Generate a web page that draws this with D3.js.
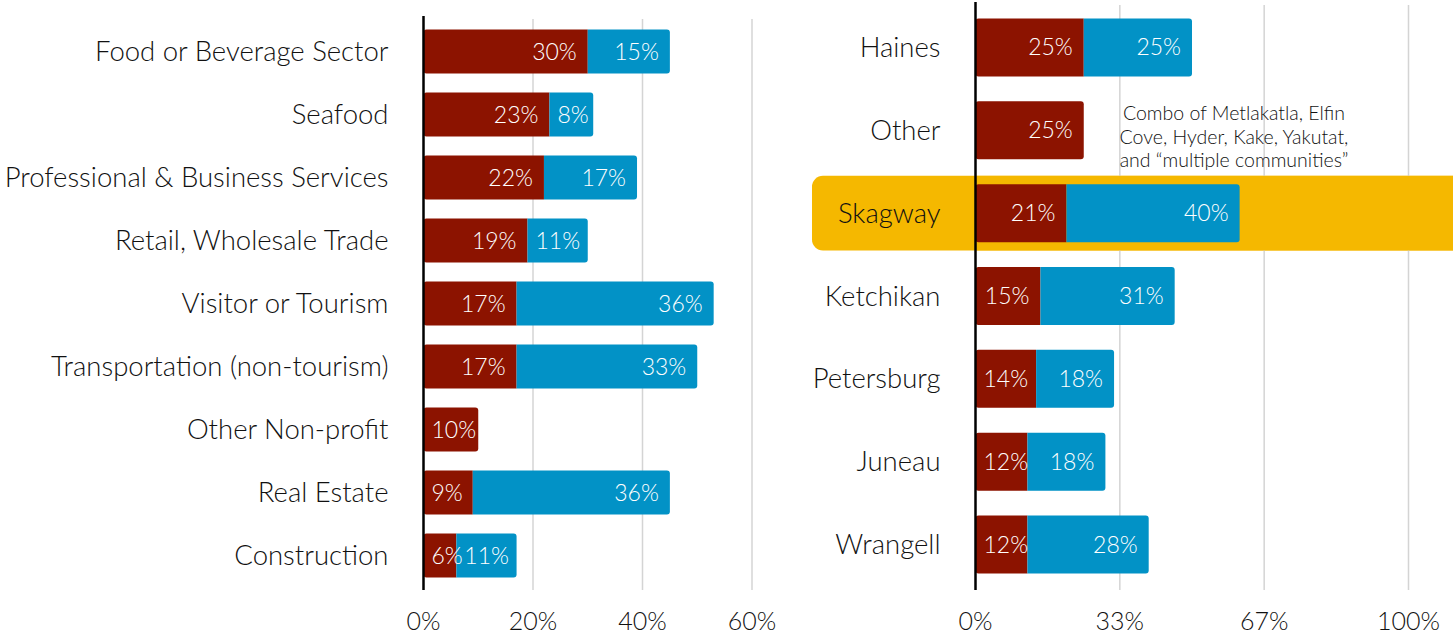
<!DOCTYPE html>
<html>
<head>
<meta charset="utf-8">
<script src="https://cdn.jsdelivr.net/npm/d3@7"></script>
<style>
  body { margin: 0; background: #fff; }
  svg text { font-family: Lato, "Open Sans", sans-serif; font-weight: 300; fill: #111; }
</style>
</head>
<body>
<svg id="chart" width="1453" height="637"></svg>
<script>
// left panel: business sector
let sectorNames = ["Food or Beverage Sector", "Seafood", "Professional & Business Services",
  "Retail, Wholesale Trade", "Visitor or Tourism", "Transportation (non-tourism)",
  "Other Non-profit", "Real Estate", "Construction"];
let sectorRed  = [0.30, 0.23, 0.22, 0.19, 0.17, 0.17, 0.10, 0.09, 0.06];
let sectorBlue = [0.15, 0.08, 0.17, 0.11, 0.36, 0.33, 0.00, 0.36, 0.11];
let sectorTicks = [0, 0.2, 0.4, 0.6];
let sectorTickLabels = ["0%", "20%", "40%", "60%"];

// right panel: community
let communityNames = ["Haines", "Other", "Skagway", "Ketchikan", "Petersburg", "Juneau", "Wrangell"];
let communityRed  = [0.25, 0.25, 0.21, 0.15, 0.14, 0.12, 0.12];
let communityBlue = [0.25, 0.00, 0.40, 0.31, 0.18, 0.18, 0.28];
let communityTicks = [0, 1/3, 2/3, 1];
let communityTickLabels = ["0%", "33%", "67%", "100%"];

let highlightName = "Skagway";
let noteLines = ["Combo of Metlakatla, Elfin", "Cove, Hyder, Kake, Yakutat,", "and \u201cmultiple communities\u201d"];

let colorRed = "#8c1300";
let colorBlue = "#0292c6";
let colorHighlight = "#f5b800";

let svg = d3.select("#chart");

// bar segment with rounded corners on chosen sides
function barPath(x0, x1, y, h, roundLeft, roundRight){
  let r = 3;
  let rl = roundLeft ? r : 0, rr = roundRight ? r : 0;
  return "M" + (x0 + rl) + "," + y +
    "H" + (x1 - rr) +
    (rr ? "Q" + x1 + "," + y + " " + x1 + "," + (y + rr) : "") +
    "V" + (y + h - rr) +
    (rr ? "Q" + x1 + "," + (y + h) + " " + (x1 - rr) + "," + (y + h) : "") +
    "H" + (x0 + rl) +
    (rl ? "Q" + x0 + "," + (y + h) + " " + x0 + "," + (y + h - rl) : "") +
    "V" + (y + rl) +
    (rl ? "Q" + x0 + "," + y + " " + (x0 + rl) + "," + y : "") +
    "Z";
}

function buildPanel(p){
  let g = svg.append("g").attr("class", p.cls);
  let x = p.x, y = p.y;
  let rows = p.names.map(function(d, i){ return {name: d, red: p.red[i], blue: p.blue[i]}; });

  // highlight band goes under everything
  if(p.highlight){
    let step = y.step();
    let cy = y(p.highlight) + y.bandwidth() / 2;
    g.append("rect")
      .attr("x", p.highlightX)
      .attr("y", cy - step * 0.45)
      .attr("width", 1453 - p.highlightX + 20)
      .attr("height", step * 0.9)
      .attr("rx", 11)
      .style("fill", colorHighlight);
  }

  // grid
  g.selectAll(".grid")
    .data(p.ticks.filter(function(d){ return d > 0; }))
    .enter().append("line")
      .attr("x1", function(d){ return x(d); })
      .attr("x2", function(d){ return x(d); })
      .attr("y1", y.range()[0] - 1)
      .attr("y2", 590)
      .style("stroke", "#d4d4d4")
      .style("stroke-width", 1.5);

  // cover grid where highlight sits
  if(p.highlight){
    let step = y.step();
    let cy = y(p.highlight) + y.bandwidth() / 2;
    g.append("rect")
      .attr("x", x(0))
      .attr("y", cy - step * 0.45)
      .attr("width", 1453)
      .attr("height", step * 0.9)
      .style("fill", colorHighlight);
  }

  let row = g.selectAll(".row")
    .data(rows)
    .enter().append("g")
      .attr("class", "row");

  row.append("path")
    .attr("d", function(d){
      return barPath(x(0), x(d.red), y(d.name), y.bandwidth(), true, d.blue == 0);
    })
    .style("fill", colorRed);

  row.filter(function(d){ return d.blue > 0; })
    .append("path")
    .attr("d", function(d){
      return barPath(x(d.red), x(d.red + d.blue), y(d.name), y.bandwidth(), false, true);
    })
    .style("fill", colorBlue);

  // value labels inside segments
  function valueLabel(sel, start, end, val){
    sel.append("text")
      .text(function(d){ return Math.round(val(d) * 100) + "%"; })
      .attr("y", function(d){ return y(d.name) + y.bandwidth() / 2; })
      .attr("dy", "0.35em")
      .style("font-size", "23px")
      .style("fill", "#fff")
      .attr("x", function(d){
        let w = this.getComputedTextLength();
        return Math.max(x(end(d)) - 11 - w, x(start(d)) + 8);
      });
  }
  valueLabel(row, function(){ return 0; }, function(d){ return d.red; }, function(d){ return d.red; });
  valueLabel(row.filter(function(d){ return d.blue > 0; }),
    function(d){ return d.red; }, function(d){ return d.red + d.blue; }, function(d){ return d.blue; });

  // category labels
  g.selectAll(".cat")
    .data(rows)
    .enter().append("text")
      .attr("x", x(0) - 35)
      .attr("y", function(d){ return y(d.name) + y.bandwidth() / 2; })
      .attr("dy", "0.35em")
      .attr("text-anchor", "end")
      .style("font-size", "27.5px")
      .text(function(d){ return d.name; });

  // zero line
  g.append("line")
    .attr("x1", x(0)).attr("x2", x(0))
    .attr("y1", y.range()[0] - 4)
    .attr("y2", 590)
    .style("stroke", "#000")
    .style("stroke-width", 2.5);

  // tick labels
  g.selectAll(".tick")
    .data(p.ticks)
    .enter().append("text")
      .attr("x", function(d){ return x(d); })
      .attr("y", 621)
      .attr("dy", "0.35em")
      .attr("text-anchor", "middle")
      .style("font-size", "25px")
      .text(function(d, i){ return p.tickLabels[i]; });
  return g;
}

let xSector = d3.scaleLinear().domain([0, 1]).range([423.5, 971]);
let ySector = d3.scaleBand().domain(sectorNames).range([20, 587]).paddingInner(0.3).paddingOuter(0.15);

let xCommunity = d3.scaleLinear().domain([0, 1]).range([975.5, 1408.5]);
let yCommunity = d3.scaleBand().domain(communityNames).range([6, 586]).paddingInner(0.3).paddingOuter(0.15);

buildPanel({cls: "sectors", names: sectorNames, red: sectorRed, blue: sectorBlue,
  x: xSector, y: ySector, ticks: sectorTicks, tickLabels: sectorTickLabels});

let right = buildPanel({cls: "communities", names: communityNames, red: communityRed, blue: communityBlue,
  x: xCommunity, y: yCommunity, ticks: communityTicks, tickLabels: communityTickLabels,
  highlight: highlightName, highlightX: 812});

// note next to the "Other" bar
let otherY = yCommunity("Other") + yCommunity.bandwidth() / 2;
right.append("text")
  .attr("text-anchor", "middle")
  .style("font-size", "19.5px")
  .selectAll("tspan")
  .data(noteLines)
  .enter().append("tspan")
    .attr("x", 1234)
    .attr("y", function(d, i){ return otherY - 17 + i * 23.5; })
    .attr("dy", "0.35em")
    .text(function(d){ return d; });
</script>
</body>
</html>
